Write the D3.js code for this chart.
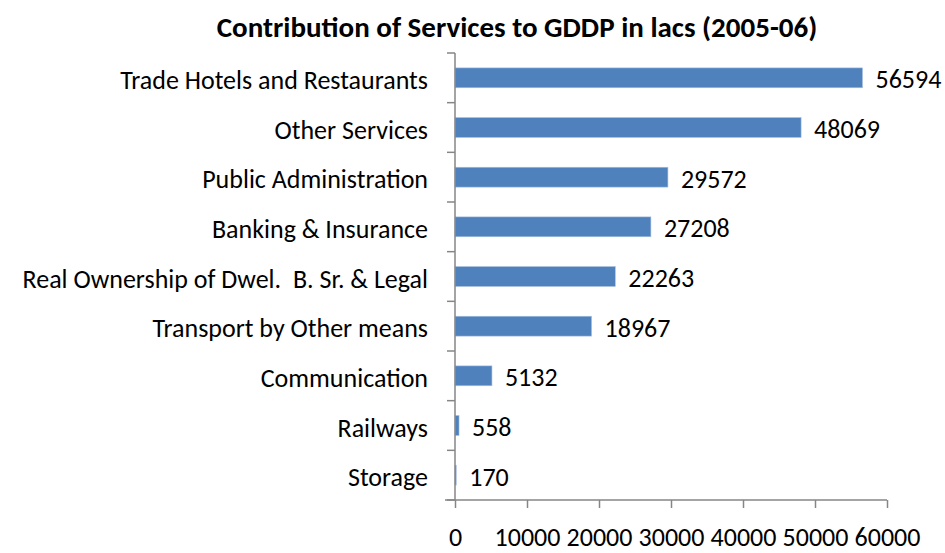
<!DOCTYPE html>
<html>
<head>
<meta charset="utf-8">
<script src="https://cdn.jsdelivr.net/npm/d3@7"></script>
<style>
  html, body { margin: 0; padding: 0; background: #fff; }
  svg text { font-family: Carlito, Calibri, "Open Sans", sans-serif; fill: #000; white-space: pre; }
</style>
</head>
<body>
<svg id="chart" width="945" height="553"></svg>
<script>
// Services contribution to GDDP (in lacs), 2005-06
const categories = [
  "Trade Hotels and Restaurants",
  "Other Services",
  "Public Administration",
  "Banking & Insurance",
  "Real Ownership of Dwel.  B. Sr. & Legal",
  "Transport by Other means",
  "Communication",
  "Railways",
  "Storage"
];
const values = [56594, 48069, 29572, 27208, 22263, 18967, 5132, 558, 170];
const xTicks = [0, 10000, 20000, 30000, 40000, 50000, 60000];
const title = "Contribution of Services to GDDP in lacs (2005-06)";

const svg = d3.select("#chart");
const plotL = 455, plotR = 887, plotT = 53, plotB = 500;
const fontMain = 26;

const x = d3.scaleLinear().domain([0, 60000]).range([plotL, plotR]);
const y = d3.scaleBand().domain(categories).range([plotT, plotB]).paddingInner(0.6).paddingOuter(0.3);
const yTicks = d3.scaleBand().domain(categories).range([plotT, plotB]);

svg.append("text")
  .attr("x", 517).attr("y", 37)
  .attr("text-anchor", "middle")
  .attr("font-size", 29).attr("font-weight", "bold")
  .text(title);

// bars
svg.selectAll("rect.bar").data(values).join("rect")
  .attr("class", "bar")
  .attr("x", x(0))
  .attr("y", (d, i) => y(categories[i]))
  .attr("width", d => x(d) - x(0))
  .attr("height", y.bandwidth())
  .attr("fill", "#4F81BD")
  .attr("stroke", "#A7BFDE").attr("stroke-width", 0.6);

// value labels
svg.selectAll("text.val").data(values).join("text")
  .attr("class", "val")
  .attr("x", d => x(d) + 13)
  .attr("y", (d, i) => y(categories[i]) + y.bandwidth() / 2 + 10.5)
  .attr("font-size", fontMain)
  .text(d => d);

// category axis
const gy = svg.append("g").attr("transform", `translate(${plotL},0)`);
gy.append("line").attr("x1", 0).attr("x2", 0).attr("y1", plotT).attr("y2", plotB)
  .attr("stroke", "#868686").attr("stroke-width", 1.5);
gy.selectAll("line.tk").data(categories.concat(["_end"])).join("line")
  .attr("class", "tk")
  .attr("x1", -8).attr("x2", 0)
  .attr("y1", (d, i) => i < categories.length ? yTicks(d) : plotB)
  .attr("y2", (d, i) => i < categories.length ? yTicks(d) : plotB)
  .attr("stroke", "#868686").attr("stroke-width", 1.5);
gy.selectAll("text.cat").data(categories).join("text")
  .attr("class", "cat")
  .attr("x", -27)
  .attr("y", d => yTicks(d) + yTicks.bandwidth() / 2 + 11)
  .attr("text-anchor", "end")
  .attr("font-size", fontMain)
  .text(d => d);

// value axis
const gx = svg.append("g").attr("transform", `translate(0,${plotB})`);
gx.call(d3.axisBottom(x).tickValues(xTicks).tickSize(8).tickFormat(d3.format("d")));
gx.select(".domain").attr("stroke", "#868686").attr("stroke-width", 1.5)
  .attr("d", `M${plotL - 10},0H${plotR}`);
gx.selectAll(".tick line").attr("stroke", "#868686").attr("stroke-width", 1.5);
gx.selectAll(".tick text")
  .attr("y", 46).attr("dy", null)
  .attr("font-size", fontMain).attr("fill", "#000")
  .style("font-family", 'Carlito, Calibri, "Open Sans", sans-serif');
</script>
</body>
</html>
